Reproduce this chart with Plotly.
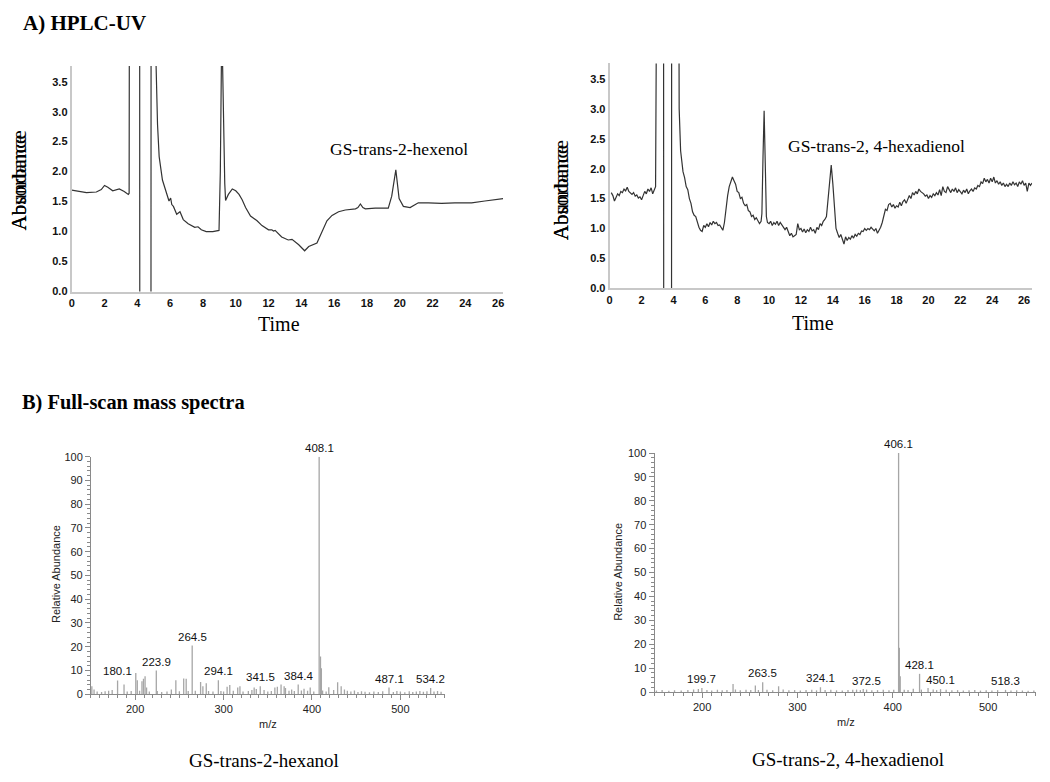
import plotly.graph_objects as go

W, H = 1050, 782

# ---------------- HPLC-UV traces ----------------
a1_time = [
    0.0, 0.4, 0.9, 1.5, 1.8, 2.0, 2.2, 2.5, 2.9, 3.2,
    3.45, 3.5, 3.52, 4.14, 4.15, 4.83, 4.84, 5.12, 5.14, 5.23,
    5.33, 5.53, 5.73, 5.93, 6.03, 6.1, 6.2, 6.4, 6.6, 6.8,
    7.1, 7.5, 7.7, 7.9, 8.2, 8.6, 8.98, 9.06, 9.15, 9.16,
    9.26, 9.33, 9.38, 9.55, 9.79, 10.0, 10.2, 10.39, 10.6, 10.9,
    11.3, 11.6, 12.0, 12.2, 12.3, 12.4, 12.8, 13.2, 13.43, 13.84,
    14.2, 14.45, 14.95, 15.26, 15.56, 15.87, 16.27, 16.68, 17.3, 17.45,
    17.6, 17.75, 17.9, 18.5, 19.3, 19.51, 19.76, 19.96, 20.22, 20.63,
    21.13, 21.74, 22.55, 23.36, 24.38, 25.19, 25.8, 26.3,
]
a1_abs = [
    1.69, 1.67, 1.65, 1.66, 1.70, 1.77, 1.74, 1.68, 1.71, 1.67,
    1.62, 1.64, 6.0, 6.0, -1.0, -1.0, 6.0, 6.0, 3.8, 2.79,
    2.25, 1.86, 1.67, 1.51, 1.56, 1.45, 1.42, 1.29, 1.33, 1.20,
    1.13, 1.07, 1.08, 1.03, 1.00, 1.00, 1.02, 2.0, 4.5, 4.5,
    2.6, 1.8, 1.52, 1.62, 1.71, 1.68, 1.62, 1.53, 1.40, 1.26,
    1.18, 1.10, 1.03, 1.03, 1.01, 1.02, 0.91, 0.86, 0.87, 0.78,
    0.68, 0.75, 0.81, 0.99, 1.18, 1.27, 1.33, 1.36, 1.38, 1.40,
    1.46, 1.40, 1.38, 1.39, 1.39, 1.59, 2.03, 1.55, 1.42, 1.40,
    1.48, 1.48, 1.47, 1.48, 1.48, 1.51, 1.53, 1.55,
]

a2_time = [
    0.1, 0.2, 0.3, 0.4, 0.5, 0.6, 0.7, 0.8, 0.9, 1.0,
    1.1, 1.2, 1.3, 1.4, 1.5, 1.6, 1.7, 1.8, 1.9, 2.0,
    2.1, 2.2, 2.3, 2.4, 2.5, 2.6, 2.7, 2.8, 2.88, 2.96,
    3.38, 3.39, 3.88, 3.89, 4.33, 4.36, 4.45, 4.6, 4.7, 4.8,
    4.9, 5.0, 5.1, 5.2, 5.3, 5.4, 5.5, 5.6, 5.7, 5.8,
    5.9, 6.0, 6.1, 6.2, 6.3, 6.4, 6.5, 6.6, 6.7, 6.8,
    6.9, 7.0, 7.1, 7.2, 7.3, 7.4, 7.5, 7.6, 7.7, 7.8,
    7.9, 8.0, 8.1, 8.2, 8.3, 8.4, 8.5, 8.6, 8.7, 8.8,
    8.9, 9.0, 9.1, 9.2, 9.3, 9.4, 9.5, 9.55, 9.62, 9.69,
    9.76, 9.83, 9.9, 10.0, 10.1, 10.2, 10.3, 10.4, 10.5, 10.6,
    10.7, 10.8, 10.9, 11.0, 11.1, 11.2, 11.3, 11.4, 11.5, 11.6,
    11.7, 11.8, 11.9, 12.0, 12.1, 12.2, 12.3, 12.4, 12.5, 12.6,
    12.7, 12.8, 12.9, 13.0, 13.1, 13.2, 13.3, 13.4, 13.5, 13.6,
    13.7, 13.8, 13.9, 14.0, 14.1, 14.2, 14.3, 14.4, 14.5, 14.6,
    14.7, 14.8, 14.9, 15.0, 15.1, 15.2, 15.3, 15.4, 15.5, 15.6,
    15.7, 15.8, 15.9, 16.0, 16.1, 16.2, 16.3, 16.4, 16.5, 16.6,
    16.7, 16.8, 16.9, 17.0, 17.1, 17.2, 17.3, 17.4, 17.5, 17.6,
    17.7, 17.8, 17.9, 18.0, 18.1, 18.2, 18.3, 18.4, 18.5, 18.6,
    18.7, 18.8, 18.9, 19.0, 19.1, 19.2, 19.3, 19.4, 19.5, 19.6,
    19.7, 19.8, 19.9, 20.0, 20.1, 20.2, 20.3, 20.4, 20.5, 20.6,
    20.7, 20.8, 20.9, 21.0, 21.1, 21.2, 21.3, 21.4, 21.5, 21.6,
    21.7, 21.8, 21.9, 22.0, 22.1, 22.2, 22.3, 22.4, 22.5, 22.6,
    22.7, 22.8, 22.9, 23.0, 23.1, 23.2, 23.3, 23.4, 23.5, 23.6,
    23.7, 23.8, 23.9, 24.0, 24.1, 24.2, 24.3, 24.4, 24.5, 24.6,
    24.7, 24.8, 24.9, 25.0, 25.1, 25.2, 25.3, 25.4, 25.5, 25.6,
    25.7, 25.8, 25.9, 26.0, 26.1, 26.2, 26.3, 26.4, 26.5,
]
a2_abs = [
    1.60, 1.55, 1.46, 1.52, 1.58, 1.55, 1.62, 1.60, 1.66, 1.63,
    1.69, 1.62, 1.60, 1.57, 1.60, 1.54, 1.56, 1.51, 1.53, 1.48,
    1.55, 1.62, 1.58, 1.66, 1.62, 1.68, 1.58, 1.66, 1.70, 6.0,
    6.0, -1.0, -1.0, 6.0, 6.0, 3.0, 2.3, 1.95, 1.85, 1.70,
    1.65, 1.50, 1.42, 1.28, 1.22, 1.20, 1.10, 1.02, 0.97, 0.95,
    1.05, 1.02, 1.08, 1.03, 1.10, 1.06, 1.12, 1.08, 1.10, 1.05,
    1.06, 1.00, 0.97, 1.10, 1.35, 1.55, 1.70, 1.78, 1.86, 1.80,
    1.74, 1.62, 1.60, 1.50, 1.52, 1.42, 1.38, 1.40, 1.30, 1.28,
    1.20, 1.22, 1.15, 1.18, 1.12, 1.08, 1.12, 1.25, 2.2, 2.97,
    2.1, 1.2, 1.10, 1.08, 1.12, 1.05, 1.10, 1.07, 1.12, 1.05,
    1.10, 1.06, 1.04, 0.98, 1.02, 0.94, 0.88, 0.92, 0.86, 0.88,
    0.90, 1.08, 0.98, 1.00, 0.94, 0.99, 0.93, 0.98, 0.95, 1.02,
    0.96, 0.98, 0.92, 1.02, 0.98, 1.08, 1.05, 1.12, 1.15, 1.20,
    1.50, 1.85, 2.06, 1.75, 1.30, 1.00, 0.92, 0.85, 0.90, 0.82,
    0.74, 0.86, 0.80, 0.85, 0.82, 0.88, 0.84, 0.90, 0.87, 0.92,
    0.90, 0.96, 0.95, 1.00, 0.97, 1.00, 0.98, 1.02, 0.98, 0.96,
    1.00, 0.92, 0.97, 1.02, 1.10, 1.20, 1.32, 1.30, 1.40, 1.42,
    1.36, 1.40, 1.34, 1.38, 1.36, 1.44, 1.38, 1.45, 1.48, 1.42,
    1.50, 1.55, 1.50, 1.60, 1.56, 1.62, 1.58, 1.66, 1.62, 1.60,
    1.58, 1.54, 1.56, 1.50, 1.55, 1.52, 1.58, 1.55, 1.60, 1.56,
    1.65, 1.55, 1.70, 1.62, 1.60, 1.70, 1.64, 1.60, 1.66, 1.62,
    1.68, 1.60, 1.65, 1.62, 1.58, 1.64, 1.60, 1.66, 1.58, 1.63,
    1.66, 1.62, 1.68, 1.66, 1.72, 1.70, 1.78, 1.75, 1.84, 1.78,
    1.82, 1.76, 1.84, 1.78, 1.86, 1.76, 1.80, 1.74, 1.78, 1.72,
    1.76, 1.70, 1.74, 1.70, 1.76, 1.72, 1.78, 1.73, 1.76, 1.70,
    1.78, 1.74, 1.80, 1.72, 1.76, 1.62, 1.76, 1.72, 1.76,
]

# ---------------- Mass spectra ----------------
ms1_mz = [
    151, 153.5, 157, 162, 166, 170, 174, 180.1, 187.4, 191,
    195.5, 200.7, 202.4, 205, 207.7, 209.4, 211.2, 212.9, 216, 223.9,
    225, 230, 236, 240.9, 246, 250, 254.9, 257.7, 260, 264.5,
    268, 274, 276.6, 280.4, 283, 288, 294.1, 297, 300, 304,
    307, 311, 316, 318.5, 322, 328, 332, 334.6, 337, 341.5,
    345.8, 350, 354, 358, 360.8, 365, 368.5, 370, 374, 377,
    380, 384.4, 388, 391, 395, 398, 402, 408.1, 409.6, 410.6,
    412, 416, 419, 424.5, 429, 433, 436.7, 440, 444, 448,
    452, 456, 460, 465, 470, 475, 480, 487.1, 492, 496,
    500, 505, 510, 514, 518, 522, 526, 530, 534.2, 538,
    542, 546,
]
ms1_int = [
    3.4, 2.0, 1.2, 1.0, 1.3, 1.5, 1.8, 5.8, 4.1, 1.2,
    1.4, 9.0, 5.9, 1.5, 5.5, 6.5, 7.6, 2.8, 1.2, 10.0,
    1.4, 1.0, 1.2, 2.0, 5.9, 1.3, 6.6, 6.5, 1.4, 20.5,
    1.5, 5.2, 3.4, 4.6, 1.4, 1.2, 5.9, 1.4, 1.2, 3.2,
    3.9, 1.5, 2.8, 3.4, 1.2, 1.4, 1.8, 2.8, 2.2, 3.4,
    1.8, 1.2, 1.4, 2.8, 3.2, 4.1, 3.4, 2.6, 1.5, 2.0,
    1.4, 4.1, 1.6, 2.3, 1.5, 2.8, 1.2, 100, 15.9, 11.0,
    1.6, 1.2, 3.0, 1.8, 5.1, 3.4, 2.0, 1.5, 1.2, 1.6,
    1.0, 1.3, 1.1, 0.9, 1.2, 1.0, 1.3, 2.8, 1.0, 1.4,
    1.2, 0.9, 1.3, 1.0, 1.2, 1.4, 1.1, 1.3, 2.6, 1.2,
    1.4, 1.1,
]
ms1_labels = [180.1, 223.9, 264.5, 294.1, 341.5, 384.4, 408.1, 487.1, 534.2]

ms2_mz = [
    152, 158, 165, 171, 178, 185, 191, 196, 199.7, 205,
    210, 216, 221, 226, 232.4, 234.9, 240, 246, 251, 255.8,
    259, 263.5, 268, 274, 280.2, 285, 291, 297, 303, 309,
    315, 320, 324.1, 329, 335, 341, 347, 353, 358, 362,
    366, 369, 372.5, 378, 384, 390, 396, 401, 406.1, 406.9,
    407.8, 412, 416, 421.5, 428.1, 430, 437, 442.4, 446, 450.1,
    456, 462, 468, 474, 480, 486, 492, 498, 504, 510,
    518.3, 524, 530, 536, 542, 548,
]
ms2_int = [
    0.6, 0.8, 0.5, 0.7, 0.6, 0.8, 1.0, 1.3, 1.7, 0.8,
    0.6, 0.9, 0.7, 0.8, 3.3, 1.0, 0.7, 0.9, 0.8, 2.7,
    0.8, 4.1, 0.9, 0.7, 2.4, 1.0, 0.7, 0.8, 0.6, 0.8,
    0.9, 0.7, 2.0, 0.8, 0.9, 0.7, 0.6, 0.8, 0.9, 1.0,
    0.8, 1.3, 1.0, 0.7, 0.8, 0.9, 0.7, 0.9, 100, 18.5,
    6.6, 0.9, 0.8, 1.4, 7.6, 1.0, 1.7, 1.1, 0.8, 1.2,
    0.9, 0.7, 0.8, 0.6, 0.7, 0.8, 0.6, 0.7, 0.6, 0.8,
    0.9, 0.6, 0.7, 0.6, 0.5, 0.6,
]
ms2_labels = [199.7, 263.5, 324.1, 372.5, 406.1, 428.1, 450.1, 518.3]

assert len(a1_time) == len(a1_abs)
assert len(a2_time) == len(a2_abs)
assert len(ms1_mz) == len(ms1_int)
assert len(ms2_mz) == len(ms2_int)

SERIF = "Liberation Serif, Times New Roman, serif"
SANS = "Liberation Sans, Arial, sans-serif"


def px(x):
    return x / W


def py(y):
    return 1 - y / H


def sticks(mz, inten):
    xs, ys = [], []
    for m, v in zip(mz, inten):
        xs += [m, m, None]
        ys += [0, v, None]
    return xs, ys


fig = go.Figure()

trace_line = dict(color="#333333", width=1.2)
fig.add_trace(go.Scatter(x=a1_time, y=a1_abs, mode="lines", line=trace_line,
                         xaxis="x", yaxis="y", hoverinfo="skip"))
fig.add_trace(go.Scatter(x=a2_time, y=a2_abs, mode="lines", line=trace_line,
                         xaxis="x2", yaxis="y2", hoverinfo="skip"))

sx1, sy1 = sticks(ms1_mz, ms1_int)
sx2, sy2 = sticks(ms2_mz, ms2_int)
stick_line = dict(color="#a6a6a6", width=1.3)
fig.add_trace(go.Scatter(x=sx1, y=sy1, mode="lines", line=stick_line,
                         xaxis="x3", yaxis="y3", cliponaxis=False, hoverinfo="skip"))
fig.add_trace(go.Scatter(x=sx2, y=sy2, mode="lines", line=stick_line,
                         xaxis="x4", yaxis="y4", cliponaxis=False, hoverinfo="skip"))

hplc_ax = dict(showline=True, linecolor="#c8c8c8", linewidth=2, showgrid=False,
               zeroline=False, ticks="", tickfont=dict(family=SANS, size=11,
                                                         color="#111111", weight="bold"))
hplc_x = dict(hplc_ax, tick0=0, dtick=2)
hplc_y = dict(hplc_ax, tick0=0, dtick=0.5, tickformat=".1f", range=[0, 3.76])

ms_ax = dict(showline=True, linecolor="#8a8a8a", linewidth=1, showgrid=False,
             zeroline=False, ticks="outside", ticklen=5, tickcolor="#8a8a8a",
             tickfont=dict(family=SANS, size=11, color="#222222"))
ms_x = dict(ms_ax, range=[150, 550], tick0=0, dtick=100,
            minor=dict(ticks="outside", ticklen=3, dtick=10, tickcolor="#8a8a8a"))
ms_y = dict(ms_ax, range=[0, 100], tick0=0, dtick=10,
            minor=dict(ticks="outside", ticklen=3, dtick=2, tickcolor="#8a8a8a"))

fig.update_layout(
    width=W, height=H,
    margin=dict(l=0, r=0, t=0, b=0),
    paper_bgcolor="white", plot_bgcolor="white",
    showlegend=False,
    xaxis=dict(hplc_x, domain=[px(69), px(502)], range=[0, 26.3], anchor="y"),
    yaxis=dict(hplc_y, domain=[py(290), py(61)], anchor="x"),
    xaxis2=dict(hplc_x, domain=[px(609), px(1033)], range=[0, 26.5], anchor="y2"),
    yaxis2=dict(hplc_y, domain=[py(286.7), py(58.3)], anchor="x2"),
    xaxis3=dict(ms_x, domain=[px(88.3), px(443.3)], anchor="y3"),
    yaxis3=dict(ms_y, domain=[py(699), py(457.7)], anchor="x3"),
    xaxis4=dict(ms_x, domain=[px(654), px(1036.7)], anchor="y4"),
    yaxis4=dict(ms_y, domain=[py(696.7), py(454)], anchor="x4"),
)

ann = []


def text(x, y, s, size, family=SERIF, xanchor="center", yanchor="middle",
         angle=0, bold=False, color="#000000"):
    ann.append(dict(x=px(x), y=py(y), xref="paper", yref="paper", text=s,
                    showarrow=False, xanchor=xanchor, yanchor=yanchor,
                    textangle=angle,
                    font=dict(family=family, size=size, color=color,
                              weight="bold" if bold else "normal")))


# section titles
text(18, 17, "A) HPLC-UV", 21, xanchor="left", bold=True)
text(17, 403, "B) Full-scan mass spectra", 20.4, xanchor="left", bold=True)

# HPLC axis titles (overprinted labels as in the original)
for cx, by in [(17, 230), (560, 240)]:
    text(cx, by, "Absorbance", 21, angle=-90, yanchor="bottom")
    text(cx, by, "Abundance", 21, angle=-90, yanchor="bottom")
text(277, 323, "Time", 20)
text(813, 322, "Time", 20)

# HPLC peak names
text(326, 145, "GS-trans-2-hexenol", 17.5, xanchor="left")
text(786, 142, "GS-trans-2, 4-hexadienol", 17.5, xanchor="left")

# MS axis titles
text(53, 577, "Relative Abundance", 11, family=SANS, angle=-90, color="#222222")
text(618, 575, "Relative Abundance", 11, family=SANS, angle=-90, color="#222222")
text(266, 729, "m/z", 11, family=SANS, color="#222222")
text(846, 727, "m/z", 11, family=SANS, color="#222222")

# MS captions
text(262, 766, "GS-trans-2-hexanol", 19)
text(848, 765, "GS-trans-2, 4-hexadienol", 19)

# MS peak labels
for labels, mz, inten, xr, yr in [(ms1_labels, ms1_mz, ms1_int, "x3", "y3"),
                                  (ms2_labels, ms2_mz, ms2_int, "x4", "y4")]:
    for lab in labels:
        v = inten[mz.index(lab)]
        ann.append(dict(x=lab, y=v, xref=xr, yref=yr, text=f"{lab:.1f}",
                        showarrow=False, xanchor="center", yanchor="bottom",
                        yshift=1, font=dict(family=SANS, size=11.5, color="#111111")))

fig.update_layout(annotations=ann)

post = (
    "document.documentElement.style.margin='0';"
    "document.documentElement.style.overflow='hidden';"
    "document.body.style.margin='0';document.body.style.padding='0';"
    "document.body.style.overflow='hidden';"
    "var d=document.getElementById('{plot_id}');"
    "d.style.position='fixed';d.style.left='0px';d.style.top='0px';"
)
fig.write_html("out.html", config={"displayModeBar": False}, post_script=post)
